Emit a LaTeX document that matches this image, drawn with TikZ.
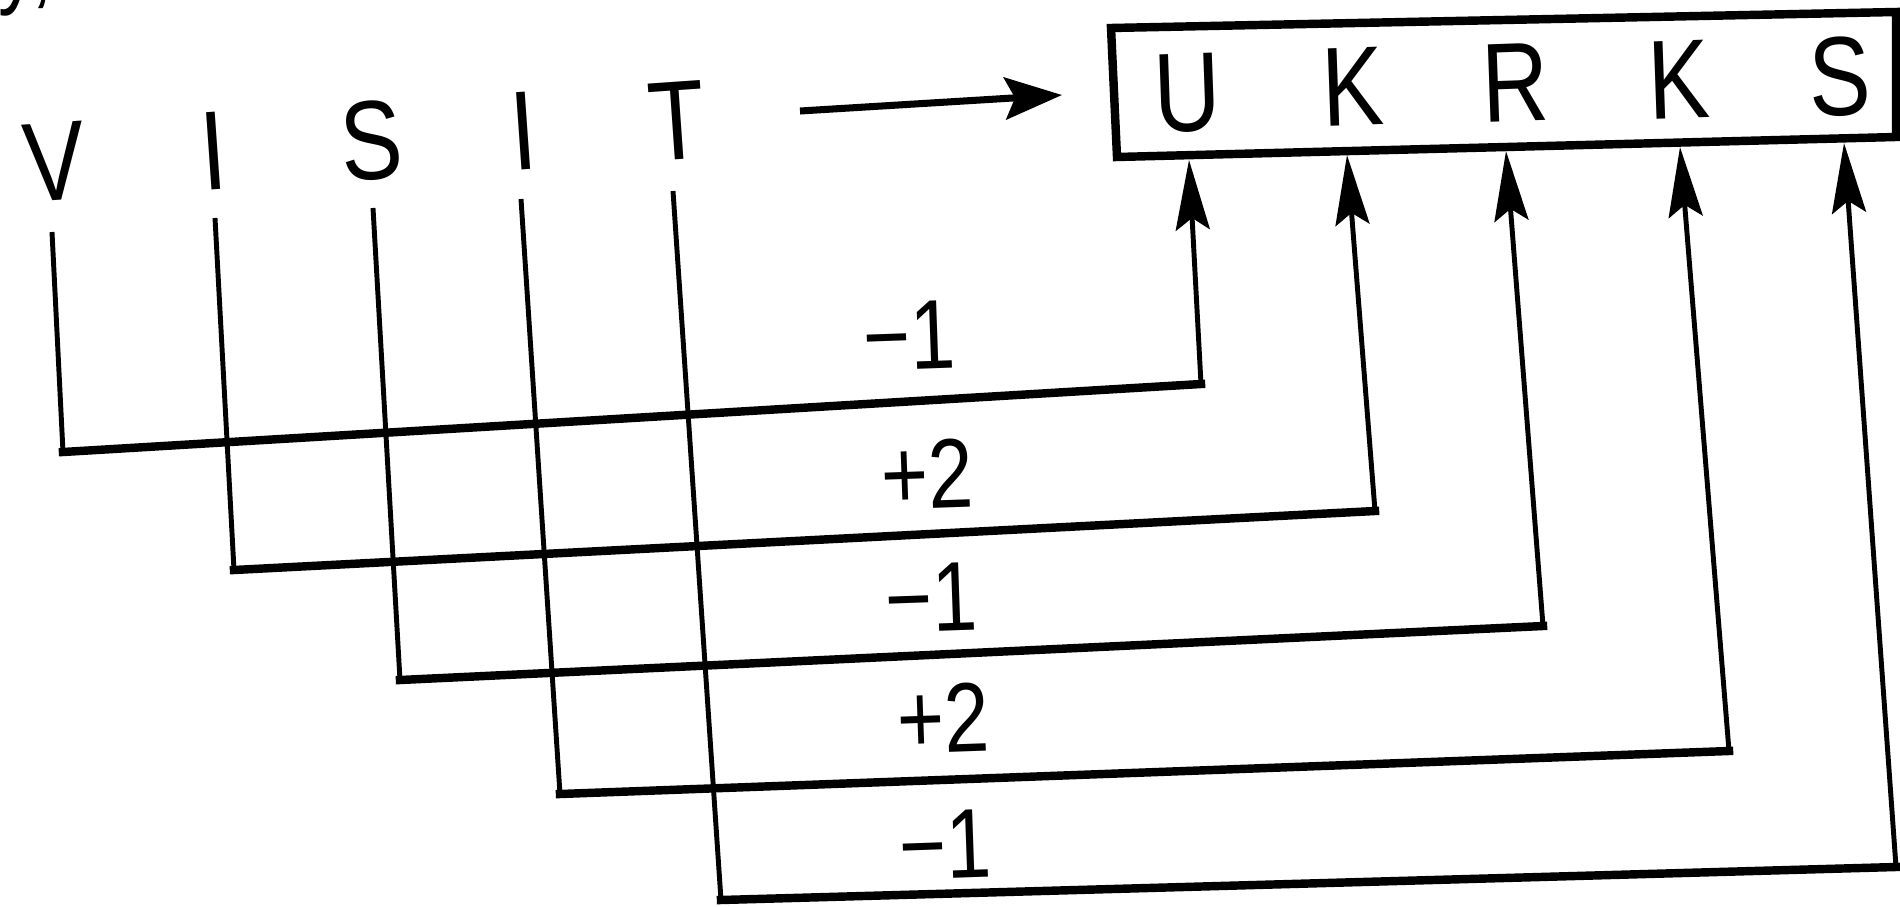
\documentclass[tikz,border=0pt]{standalone}
\usepackage{fontspec}
\setmainfont{Liberation Sans}
\newfontfamily\narrowsans[FakeStretch=0.82]{Liberation Sans}
\usetikzlibrary{arrows.meta}

\begin{document}
\begin{tikzpicture}[x=0.01cm, y=-0.01cm,
        letter/.style={font=\narrowsans\fontsize{32}{32}\selectfont, inner sep=0pt},
        shiftlabel/.style={font=\narrowsans\fontsize{28}{28}\selectfont, inner sep=0pt, rotate=2},
        leg/.style={line width=1.4pt},
        rung/.style={line width=2.4pt, line cap=rect},
        up/.style={line width=1.4pt, -{Stealth[length=7mm, width=3.4mm, inset=1.2mm]}}]
    \useasboundingbox (0,0) rectangle (1900,906);

    % cut-off text from the line above
    \node[anchor=base west, font=\narrowsans\fontsize{27}{27}\selectfont, inner sep=0pt] (frag) at (-2,-4) {y,};

    % plain word
    \node[letter, rotate=4] (v) at (54,162) {V};
    \node[letter, rotate=4] (ia) at (214,151) {I};
    \node[letter, rotate=4] (sa) at (371,141) {S};
    \node[letter, rotate=4] (ib) at (524,131) {I};
    \node[letter, rotate=4] (t) at (677,121) {T};

    % coded word
    \draw[line width=2.4pt] (1111,28) -- (1896,12) -- (1896,137) -- (1117,157) -- cycle;
    \node[letter, rotate=2] (u) at (1187,93) {U};
    \node[letter, rotate=2] (ka) at (1353,87) {K};
    \node[letter, rotate=2] (r) at (1515,83) {R};
    \node[letter, rotate=2] (kb) at (1679,80) {K};
    \node[letter, rotate=2] (sb) at (1840,77) {S};

    \coordinate (go) at (800,111);
    \coordinate (box) at (1062,95);
    \draw[line width=2pt, -{Stealth[length=5.7mm, width=4.2mm, inset=1mm]}] (go) -- (box);

    % tops of the legs
    \coordinate (v-top) at (52,232);
    \coordinate (ia-top) at (215,218);
    \coordinate (sa-top) at (373,208);
    \coordinate (ib-top) at (521,199);
    \coordinate (t-top) at (673,191);
    % lower corners
    \coordinate (v-low) at (63,452);
    \coordinate (ia-low) at (234,570);
    \coordinate (sa-low) at (400,680);
    \coordinate (ib-low) at (560,794);
    \coordinate (t-low) at (721,900);
    % corners under the coded letters
    \coordinate (u-low) at (1201,384);
    \coordinate (ka-low) at (1375,511);
    \coordinate (r-low) at (1543,626);
    \coordinate (kb-low) at (1729,751);
    \coordinate (sb-low) at (1896,867);
    % tips on the box
    \coordinate (u-tip) at (1189,160);
    \coordinate (ka-tip) at (1347,155);
    \coordinate (r-tip) at (1506,151);
    \coordinate (kb-tip) at (1680,147);
    \coordinate (sb-tip) at (1844,143);

    \draw[leg] (v-top) -- (v-low);
    \draw[leg] (ia-top) -- (ia-low);
    \draw[leg] (sa-top) -- (sa-low);
    \draw[leg] (ib-top) -- (ib-low);
    \draw[leg] (t-top) -- (t-low);

    \draw[rung] (v-low) -- (u-low);
    \draw[rung] (ia-low) -- (ka-low);
    \draw[rung] (sa-low) -- (r-low);
    \draw[rung] (ib-low) -- (kb-low);
    \draw[rung] (t-low) -- (sb-low);

    \draw[up] (u-low) -- (u-tip);
    \draw[up] (ka-low) -- (ka-tip);
    \draw[up] (r-low) -- (r-tip);
    \draw[up] (kb-low) -- (kb-tip);
    \draw[up] (sb-low) -- (sb-tip);

    % shifts
    \node[shiftlabel] (sh1) at (909,336) {−1};
    \node[shiftlabel] (sh2) at (927,474) {+2};
    \node[shiftlabel] (sh3) at (931,598) {−1};
    \node[shiftlabel] (sh4) at (943,718) {+2};
    \node[shiftlabel] (sh5) at (945,845) {−1};
\end{tikzpicture}
\end{document}
